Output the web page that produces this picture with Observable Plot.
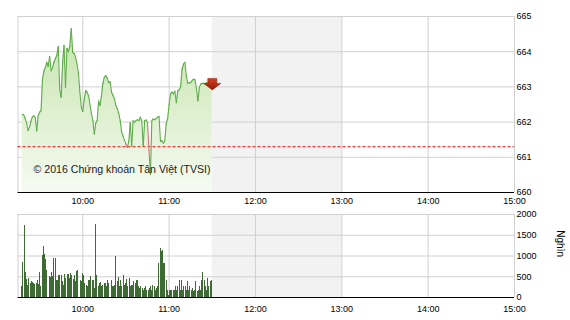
<!DOCTYPE html>
<html>
<head>
<meta charset="utf-8">
<script src="https://cdn.jsdelivr.net/npm/d3@7"></script>
<script src="https://cdn.jsdelivr.net/npm/@observablehq/plot@0.6"></script>
<style>
  html, body { margin: 0; padding: 0; background: #fff; }
  #chart svg { display: block; }
</style>
</head>
<body>
<div id="chart"></div>
<script>
// ---------- data ----------
const referencePrice = 661.3;
const priceStart = "09:18";          // first price point, one point per minute
const prices = [
  662.22, 662.20, 662.10, 661.97, 661.76, 661.85, 662.02, 662.15, 662.18, 662.13,
  661.75, 662.18, 662.28, 662.32, 663.20, 663.45, 663.55, 663.70, 663.58, 663.87,
  663.46, 663.55, 663.70, 663.80, 663.90, 664.15, 662.93, 662.70, 663.70, 664.18,
  662.98, 664.10, 664.00, 664.15, 664.66, 663.98, 663.95, 663.85, 663.65, 663.40,
  662.85, 662.42, 662.30, 662.63, 662.90, 662.85, 662.75, 662.50, 662.25, 662.05,
  661.66, 661.97, 662.04, 662.60, 662.47, 662.75, 663.10, 663.28, 663.32, 663.25,
  663.12, 663.15, 662.85, 662.76, 662.66, 662.47, 662.38, 662.25, 662.05, 661.72,
  661.60, 661.48, 661.38, 661.28, 661.45, 661.99, 661.32, 662.04, 662.00, 662.04,
  662.07, 662.04, 662.14, 662.04, 661.31, 662.04, 662.06, 661.99, 661.20, 660.52,
  662.04, 662.09, 662.07, 662.10, 662.14, 662.16, 661.45, 661.47, 661.40, 661.47,
  661.95, 662.10, 662.50, 662.80, 662.85, 662.80, 662.88, 662.55, 662.88, 662.92,
  663.00, 663.50, 663.65, 663.70, 663.30, 663.10, 663.12, 663.12, 663.18, 663.22,
  663.20, 662.95, 662.60, 662.98, 663.08, 663.10, 663.10, 663.08, 663.12, 663.12,
  663.10, 663.10, 663.10
];
const volumeStart = "09:17:38";      // first volume bar
const volumeStepSeconds = 49.7;      // sampling interval of the volume bars
const volumes = [
  257, 835, 1742, 594, 434, 297, 458, 337, 377, 353, 337, 321, 337, 418, 321, 594, 257, 1020, 1220, 1044,
  915, 658, 618, 514, 482, 594, 498, 940, 940, 418, 418, 538, 538, 538, 377, 297, 562, 458, 562, 562,
  458, 578, 538, 434, 538, 377, 618, 658, 538, 418, 377, 578, 538,
  337, 297, 273, 401, 401, 514, 401, 401, 217, 1767, 538, 257, 337, 353, 257, 297, 337, 337, 257, 418,
  337, 257, 418, 257, 257, 297, 980, 377, 482, 257, 401, 257, 538, 297, 337, 434, 257, 458, 257, 297,
  297, 377, 337, 401, 401, 257, 217, 257, 217, 177,
  217, 273, 177, 161, 217, 257, 177, 297, 257, 161, 217, 257, 819, 1180, 1100, 1140, 819, 819, 418, 177,
  60, 161, 177, 177, 177, 177, 257, 177, 257, 418, 161, 418, 161, 273, 257, 177, 377, 161, 257, 177,
  217, 137, 177, 377, 137, 177, 273, 177, 418, 594, 418, 257, 177, 458, 257, 377, 418
];
const sessionStart = "09:15";
const sessionEnd = "15:00";
const breakStart = "11:30";
const breakEnd = "13:00";
const xTickLabels = ["10:00", "11:00", "12:00", "13:00", "14:00", "15:00"];
const priceTicks = [660, 661, 662, 663, 664, 665];
const volumeTicks = [0, 500, 1000, 1500, 2000];
const copyright = "© 2016 Chứng khoán Tân Việt (TVSI)";
const volumeUnit = "Nghìn";

// ---------- helpers ----------
const toDate = s => { const [h, m, sec = 0] = s.split(":").map(Number); return new Date(Date.UTC(2016, 0, 4, h, m, 0) + sec * 1000); };
const fmtTime = d => `${d.getUTCHours()}:${String(d.getUTCMinutes()).padStart(2, "0")}`;
const t0 = toDate(priceStart).getTime();
const priceData = prices.map((p, i) => ({t: new Date(t0 + i * 60000), p}));
const segments = d3.pairs(priceData).map(([a, b]) => ({x1: a.t, y1: a.p, x2: b.t, y2: b.p, below: b.p < referencePrice}));
const v0 = toDate(volumeStart).getTime();
const volumeData = volumes.map((v, i) => ({
  t1: new Date(v0 + i * volumeStepSeconds * 1000),
  t2: new Date(v0 + i * volumeStepSeconds * 1000 + 41000),
  v
}));
const xDomain = [toDate(sessionStart), toDate(sessionEnd)];
const xTicks = xTickLabels.map(toDate);
const gridColor = "#d0d0d0";
const font = "'Liberation Sans', Arial, sans-serif";

const common = {
  width: 570,
  marginLeft: 17.5,
  marginRight: 56,
  style: {fontFamily: font, fontSize: "9px", color: "#000", background: "#fff", overflow: "visible"}
};

// ---------- price panel ----------
const pricePanel = Plot.plot({
  ...common,
  height: 207,
  marginTop: 16,
  marginBottom: 15,
  x: {type: "utc", domain: xDomain, ticks: xTicks, tickFormat: fmtTime, tickSize: 0, tickPadding: 5.5, label: null},
  y: {domain: [660, 665], ticks: priceTicks, tickFormat: d => String(d), tickSize: 0, tickPadding: 2, axis: "right", label: null},
  marks: [
    Plot.rect([0], {x1: () => toDate(breakStart), x2: () => toDate(breakEnd), fill: "#f2f2f2"}),
    Plot.ruleX([toDate(sessionStart), ...xTicks], {stroke: gridColor}),
    Plot.ruleY(priceTicks.slice(1), {stroke: gridColor}),
    Plot.areaY(priceData, {x: "t", y1: 660, y2: "p", fill: "url(#areaGrad)"}),
    Plot.ruleY([referencePrice], {stroke: "#ff0000", strokeDasharray: "3,2"}),
    Plot.link(segments, {x1: "x1", y1: "y1", x2: "x2", y2: "y2", stroke: d => d.below ? "#dc6a70" : "#5eac4a", strokeWidth: 1.1, strokeLinecap: "round"}),
    Plot.text([copyright], {frameAnchor: "bottom-left", dx: 15.5, dy: -23, textAnchor: "start", lineAnchor: "middle", fontSize: 10.6, fill: "#1a1a1a"}),
    Plot.dot(priceData.slice(-1), {
      x: "t", y: "p", dy: 1,
      symbol: {draw(ctx) {
        ctx.moveTo(-4.5, -6); ctx.lineTo(4.5, -6); ctx.lineTo(4.5, -1); ctx.lineTo(8.5, -1);
        ctx.lineTo(0, 5.5); ctx.lineTo(-8.5, -1); ctx.lineTo(-4.5, -1); ctx.closePath();
      }},
      fill: "url(#arrowGrad)", stroke: "#7a160a", strokeWidth: 0.5
    }),
    Plot.ruleY([660], {stroke: "#000", strokeWidth: 1.2})
  ]
});

// ---------- volume panel ----------
const volumePanel = Plot.plot({
  ...common,
  height: 113,
  marginTop: 7,
  marginBottom: 23,
  x: {type: "utc", domain: xDomain, ticks: xTicks, tickFormat: fmtTime, tickSize: 0, tickPadding: 8, label: null},
  y: {domain: [0, 2000], ticks: volumeTicks, tickFormat: d => String(d), tickSize: 0, tickPadding: 2, axis: "right", label: null},
  marks: [
    Plot.rect([0], {x1: () => toDate(breakStart), x2: () => toDate(breakEnd), fill: "#f2f2f2"}),
    Plot.ruleX([toDate(sessionStart), ...xTicks], {stroke: gridColor}),
    Plot.ruleY(volumeTicks.slice(1), {stroke: gridColor}),
    Plot.rectY(volumeData, {x1: "t1", x2: "t2", y: "v", fill: "#3e6a33", shapeRendering: "crispEdges"}),
    Plot.ruleY([0], {stroke: "#000", strokeWidth: 1.2}),
    Plot.text([volumeUnit], {frameAnchor: "right", dx: 46, dy: 1, rotate: 90, fontSize: 10, fill: "#000"})
  ]
});

// gradients used by the marks
const ns = "http://www.w3.org/2000/svg";
const defs = document.createElementNS(ns, "defs");
defs.innerHTML = `
  <linearGradient id="areaGrad" x1="0" y1="0" x2="0" y2="1">
    <stop offset="0" stop-color="#c4e4ab"/>
    <stop offset="1" stop-color="#f6fbf2"/>
  </linearGradient>
  <linearGradient id="arrowGrad" x1="0" y1="0" x2="0" y2="1">
    <stop offset="0" stop-color="#d9401f"/>
    <stop offset="1" stop-color="#8a1a0c"/>
  </linearGradient>`;
pricePanel.insertBefore(defs, pricePanel.firstChild);

const chart = document.getElementById("chart");
chart.appendChild(pricePanel);
chart.appendChild(volumePanel);
</script>
</body>
</html>
